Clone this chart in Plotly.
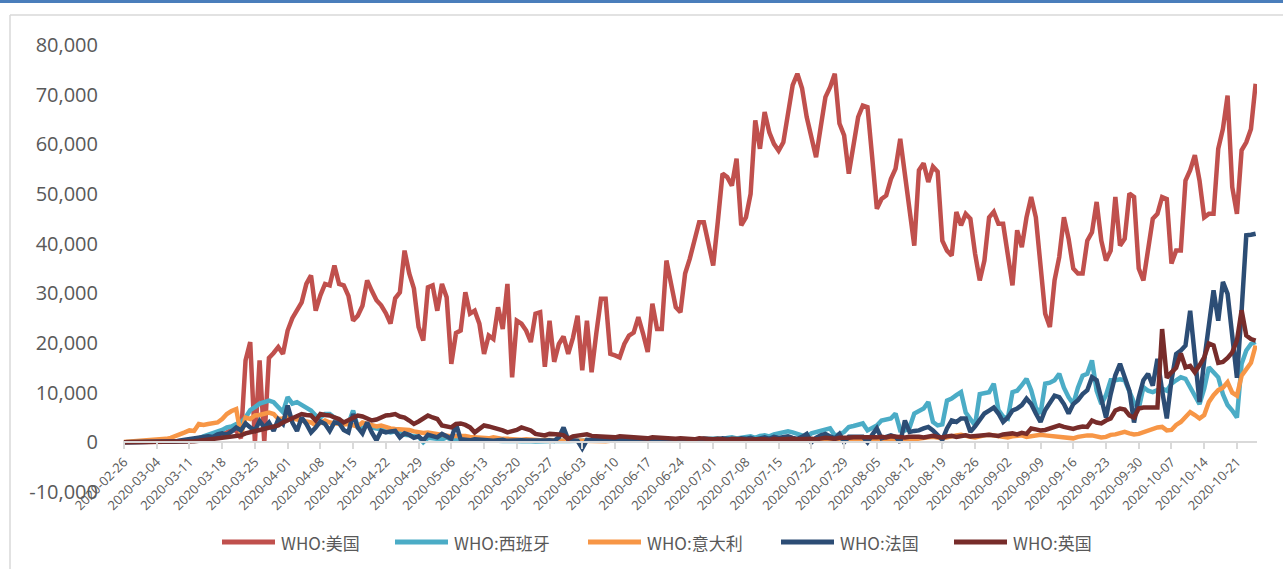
import plotly.graph_objects as go
import pandas as pd

# daily new cases, 2020-02-26 .. 2020-10-25 (one row per week)
dates = pd.date_range('2020-02-26', periods=243, freq='D')

us = [
    0, 0, 0, 0, 0, 0, 10,
    20, 30, 50, 60, 80, 120, 150,
    250, 300, 400, 500, 700, 900, 1200,
    1500, 2000, 2600, 2300, 800, 16500, 20200,
    0, 16500, 0, 17000, 18000, 19200, 17800,
    22500, 25000, 26500, 28200, 31900, 33600, 26500,
    29600, 31900, 31600, 35600, 31900, 31600, 29500,
    24500, 25500, 27500, 32600, 30500, 28600, 27600,
    26000, 23900, 29000, 30200, 38600, 34000, 31000,
    23200, 20500, 31200, 31600, 26500, 31900, 29200,
    15800, 22000, 22500, 30200, 25900, 26500, 23900,
    17800, 21500, 20800, 27200, 22800, 31900, 13100,
    24500, 23900, 22500, 20200, 25900, 26200, 15200,
    24500, 16200, 19800, 21300, 17800, 21000, 25500,
    14500, 24500, 14100, 21900, 28900, 28900, 17800,
    17500, 17100, 19800, 21500, 22100, 25200, 21900,
    18200, 27900, 22800, 22800, 36600, 31900, 27200,
    26200, 34000, 37000, 40300, 44300, 44300, 40300,
    35600, 44500, 54100, 53400, 51700, 57100, 43700,
    45300, 50000, 64800, 59100, 66500, 62400, 60100,
    58700, 60400, 66800, 71900, 74200, 71300, 65500,
    61500, 57400, 63500, 69500, 71500, 74200, 64200,
    61800, 54100, 59500, 65500, 67800, 67500, 57400,
    47000, 49000, 49700, 53000, 55100, 61100, 53700,
    46700, 39600, 54800, 56200, 52400, 55500, 54500,
    40600, 38600, 37600, 46400, 43700, 46000, 45000,
    38000, 32600, 36600, 45300, 46400, 44000, 44000,
    37300, 31600, 42700, 39300, 45300, 49400, 45300,
    35300, 25900, 23200, 32600, 37300, 45300, 41000,
    35000, 34000, 34000, 40600, 42300, 48400, 40600,
    36600, 38600, 49400, 39600, 41000, 50100, 49400,
    35000, 32600, 39300, 45000, 46000, 49400, 49000,
    36000, 38600, 38600, 52700, 54800, 57800, 52700,
    45300, 46000, 46000, 59100, 63100, 69800, 51400,
    46000, 58800, 60400, 63100, 72200,
]

spain = [
    0, 0, 0, 0, 0, 0, 0,
    10, 20, 30, 50, 80, 120, 200,
    300, 500, 800, 1200, 1500, 1700, 2000,
    2500, 3000, 3200, 3700, 4000, 5000, 6500,
    7100, 7800, 8100, 8400, 8100, 7100, 6100,
    9100, 7800, 8100, 7500, 7100, 6400, 5400,
    5000, 5700, 5700, 5000, 4400, 4000, 3700,
    6400, 3000, 2800, 3500, 3000, 2800, 2500,
    2300, 2000, 2200, 1800, 1500, 1400, 1300,
    1100, 0, 900, 800, 700, 600, 1000,
    500, 600, 500, 400, 500, 400, 300,
    400, 300, 350, 300, 250, 300, 200,
    250, 200, 300, 200, 150, 200, 250,
    300, 250, 200, 300, 250, 300, 200,
    300, 250, 350, 300, 250, 300, 300,
    300, 350, 300, 400, 350, 300, 400,
    350, 400, 450, 400, 500, 400, 450,
    500, 450, 500, 600, 500, 700, 600,
    700, 800, 600, 900, 1000, 800, 1000,
    1100, 1200, 900, 1300, 1400, 1200, 1600,
    1800, 2000, 2200, 2000, 1700, 1400, 1100,
    1800, 2100, 2300, 2600, 2800, 1400, 1600,
    2100, 3100, 3300, 3600, 3800, 2400, 2800,
    3400, 4400, 4600, 4800, 5800, 2400, 2400,
    3000, 5800, 6300, 6800, 8100, 4100, 3400,
    3600, 8400, 8800, 9500, 10100, 6000, 4800,
    3400, 9700, 9900, 10100, 11800, 6500, 5200,
    4800, 10100, 10400, 11500, 12800, 10500, 7000,
    5800, 11800, 12000, 12500, 13800, 11000, 9100,
    7700, 11000, 13400, 13800, 16500, 10400, 7700,
    9500, 12500, 12500, 12700, 12500, 10500, 8000,
    6800, 11100, 10400, 10100, 10500, 10800, 10400,
    11800, 12500, 13100, 12800, 11100, 9500, 7700,
    10800, 15100, 14100, 13100, 9700, 7500, 6400,
    5000, 15800, 18500, 19800, 20200,
]

italy = [
    50, 100, 150, 200, 250, 300, 400,
    500, 600, 700, 900, 1200, 1700, 2000,
    2400, 2300, 3700, 3500, 3700, 3900, 4000,
    4700, 5700, 6300, 6700, 1500, 5000, 4700,
    5400, 5500, 5700, 6000, 5700, 4700, 4800,
    5400, 4800, 4700, 4400, 4200, 4000, 3400,
    4000, 4400, 4000, 3800, 3700, 3600, 3700,
    3500, 3200, 4000, 3800, 3500, 3200, 3400,
    3000, 2800, 2700, 2600, 2700, 2500, 2200,
    2000, 1900, 2000, 1800, 1700, 1500, 1400,
    1200, 1300, 1400, 1300, 1100, 1000, 1000,
    900, 800, 1000, 800, 700, 700, 600,
    600, 500, 600, 500, 400, 400, 500,
    400, 300, 350, 300, 300, 400, 300,
    300, 250, 300, 300, 250, 200, 300,
    300, 250, 300, 250, 200, 300, 250,
    200, 250, 200, 300, 250, 200, 200,
    150, 200, 200, 200, 250, 200, 200,
    150, 200, 200, 250, 200, 250, 200,
    150, 200, 250, 250, 200, 250, 250,
    200, 250, 300, 300, 250, 250, 200,
    250, 300, 350, 300, 400, 350, 300,
    300, 400, 400, 500, 450, 450, 400,
    500, 500, 600, 550, 600, 500, 550,
    500, 600, 800, 900, 1000, 1100, 1000,
    800, 1000, 1300, 1400, 1500, 1200, 1100,
    1000, 1300, 1400, 1500, 1400, 1300, 1100,
    1000, 1200, 1300, 1400, 1100, 1300, 1400,
    1500, 1400, 1300, 1200, 1100, 900, 800,
    800, 1100, 1300, 1400, 1400, 1200, 1000,
    1100, 1500, 1600, 1800, 2100, 1800, 1600,
    1700, 2000, 2500, 2700, 3000, 3100, 2400,
    2500, 3500, 4100, 5000, 6100, 5500, 4800,
    5500, 8100, 9500, 10500, 11000, 12100, 10000,
    9400, 13400, 14800, 16000, 19500,
]

france = [
    0, 0, 0, 10, 30, 40, 20,
    60, 100, 120, 100, 200, 370, 500,
    600, 700, 800, 1000, 1200, 1100, 1600,
    1800, 1500, 2200, 3000, 2400, 3800, 3000,
    2400, 4300, 3000, 4000, 2300, 4600, 3700,
    7400, 4000, 2300, 5000, 3700, 2000, 3000,
    4200, 3700, 2300, 4000, 3900, 2500, 2000,
    5700, 3000, 1800, 4000, 2000, 400, 2300,
    2000, 2200, 2300, 1000, 1800, 1500, 900,
    1200, 400, 1500, 1200, 1000, 1700, 1100,
    700, 3700, 600, 500, 400, 600, 500,
    400, 500, 300, 400, 500, 300, 400,
    300, 400, 350, 300, 400, 300, 350,
    400, 300, 1000, 3000, 500, 400, 300,
    -1200, 500, 400, 600, 500, 400, 500,
    500, 400, 500, 600, 400, 500, 450,
    500, 600, 400, 500, 600, 500, 550,
    600, 500, 700, 600, 500, 700, 600,
    500, 600, 800, 700, 600, 500, 800,
    700, 900, 600, 800, 1000, 700, 1100,
    900, 1000, 1200, 900, 700, 1100, 1700,
    0, 900, 1400, 1700, 1200, 800, 1700,
    0, 1100, 1200, 1100, 1100, 0, 1500,
    2800, 800, 1200, 1400, 1100, 0, 4400,
    2100, 2300, 2400, 2800, 3100, 2400, 1500,
    500, 2800, 4400, 4100, 4800, 4800, 2100,
    3200, 4400, 5800, 6400, 7000, 5800, 4100,
    5000, 6400, 6800, 7500, 8800, 7700, 5800,
    4100, 6500, 8100, 9400, 9100, 7700, 5800,
    7700, 8500, 9700, 10500, 13100, 12500, 9100,
    5000, 9700, 13500, 15800, 13100, 10400, 4000,
    9100, 12500, 13800, 11400, 16800, 10400, 4800,
    12500, 17800, 18500, 19500, 26500, 16500, 8100,
    16500, 24500, 30600, 24500, 32300, 29900, 22000,
    13000, 26500, 41700, 41800, 42000,
]

uk = [
    0, 0, 0, 0, 10, 10, 10,
    20, 30, 40, 50, 50, 60, 80,
    130, 200, 300, 400, 500, 600, 700,
    800, 900, 1000, 1200, 1400, 1800, 2000,
    2300, 2400, 2600, 3000, 3200, 3400, 4000,
    4400, 5000, 5400, 5700, 5500, 5400, 4400,
    5700, 5500, 5400, 5000, 4700, 4000, 4400,
    5000, 5400, 5200, 4800, 4400, 4600, 5000,
    5400, 5500, 5700, 5200, 5000, 4400, 3700,
    4200, 4800, 5400, 5000, 4700, 3400, 3200,
    3000, 3700, 3800, 3500, 3000, 2000, 2700,
    3400, 3200, 3000, 2700, 2400, 2000, 2200,
    2500, 3000, 2700, 2400, 1700, 1600, 1400,
    1700, 1700, 1600, 1400, 700, 1200, 1300,
    1500, 1600, 1300, 1200, 1300, 1200, 1100,
    1000, 1200, 1100, 1000, 1100, 900, 900,
    800, 1000, 900, 800, 900, 800, 700,
    800, 700, 700, 600, 800, 700, 600,
    600, 700, 600, 500, 700, 600, 500,
    600, 500, 600, 700, 600, 500, 700,
    600, 700, 800, 700, 600, 700, 800,
    700, 600, 800, 900, 800, 700, 900,
    800, 900, 1000, 1000, 900, 800, 1000,
    1000, 1100, 1000, 1200, 1100, 1000, 1000,
    1100, 1200, 1100, 1000, 1200, 1300, 1100,
    1000, 1200, 1300, 1100, 1300, 1400, 1200,
    1300, 1400, 1300, 1500, 1400, 1300, 1600,
    1700, 1800, 1600, 1900, 1700, 2800, 2600,
    2400, 2500, 2800, 3000, 3400, 3100, 2800,
    2700, 3000, 3200, 3100, 4400, 4000, 3800,
    4400, 4800, 6400, 6800, 6600, 5400, 5000,
    6800, 7000, 7000, 7100, 7000, 22800, 13000,
    14100, 15000, 17900, 15100, 15400, 14100, 15500,
    17100, 19900, 19500, 16000, 16200, 17000, 18100,
    20500, 26600, 21500, 20800, 20500,
]

names = ['WHO:美国', 'WHO:西班牙', 'WHO:意大利', 'WHO:法国', 'WHO:英国']
colors = ['#c0504d', '#4bacc6', '#f79646', '#2c4d75', '#772c2a']
series = [us, spain, italy, france, uk]

# y ticks, with a plain ASCII hyphen like the original
y_ticks = [-10000, 0, 10000, 20000, 30000, 40000, 50000, 60000, 70000, 80000]
y_labels = ['-10,000', '0', '10,000', '20,000', '30,000', '40,000',
            '50,000', '60,000', '70,000', '80,000']

FONT = 'Open Sans, Noto Sans CJK SC, sans-serif'
GREY = '#595959'

# plot area in pixels (1283 x 569 page)
W, H = 1283, 569
PL, PR, PT, PB = 123, 1257, 45, 492

def px(x):
    return (x - PL) / (PR - PL)

def py(y):
    return (PB - y) / (PB - PT)

fig = go.Figure()
for name, col, vals in zip(names, colors, series):
    fig.add_trace(go.Scatter(
        x=dates, y=vals, name=name, mode='lines',
        line=dict(color=col, width=4.5),
        showlegend=False,
    ))

# hand-drawn legend (long line samples like the original)
leg_x = [222, 395, 588, 781, 954]
shapes, annotations = [], []
for x0, name, col in zip(leg_x, names, colors):
    shapes.append(dict(type='line', xref='paper', yref='paper',
                       x0=px(x0), x1=px(x0 + 53), y0=py(542), y1=py(542),
                       line=dict(color=col, width=5)))
    annotations.append(dict(xref='paper', yref='paper', x=px(x0 + 57), y=py(542),
                            text=name, showarrow=False, xanchor='left', yanchor='middle',
                            font=dict(family='Noto Sans CJK SC', size=17, color=GREY)))

# frame: blue strip on top, grey border
shapes.append(dict(type='line', xref='paper', yref='paper', x0=px(0), x1=px(W),
                   y0=py(1.5), y1=py(1.5), line=dict(color='#4a7ebb', width=3)))
shapes.append(dict(type='line', xref='paper', yref='paper', x0=px(10), x1=px(W),
                   y0=py(15), y1=py(15), line=dict(color='#d9d9d9', width=1.5)))
shapes.append(dict(type='line', xref='paper', yref='paper', x0=px(10), x1=px(10),
                   y0=py(15), y1=py(H), line=dict(color='#d9d9d9', width=1.5)))

fig.update_layout(
    width=W, height=H,
    paper_bgcolor='white', plot_bgcolor='white',
    margin=dict(l=PL, r=W - PR, t=PT, b=H - PB, pad=0),
    font=dict(family=FONT, color=GREY),
    showlegend=False,
    shapes=shapes,
    annotations=annotations,
    xaxis=dict(
        type='date',
        range=['2020-02-25 19:00', '2020-10-25 07:00'],
        tick0='2020-02-26', dtick=7 * 86400000,
        tickformat='%Y-%m-%d', tickangle=-45,
        tickfont=dict(size=13, color=GREY, family=FONT),
        showgrid=False, zeroline=False,
        showline=True, linecolor='#d9d9d9', linewidth=2,
        ticks='outside', ticklen=6, tickcolor='#d9d9d9', tickwidth=1.5,
        anchor='free', position=10000 / 90000,
    ),
    yaxis=dict(
        range=[-10000, 80000], tickmode='array',
        tickvals=y_ticks, ticktext=y_labels,
        tickfont=dict(size=20, color=GREY, family=FONT),
        showgrid=False, zeroline=False, showline=False,
        ticks='outside', ticklen=20, tickcolor='rgba(0,0,0,0)',
    ),
)

# page body has an 8px default margin; drop it so the figure sits at (0, 0)
fig.write_html('out.html', config={'displayModeBar': False},
               post_script="document.body.style.margin='0';")
